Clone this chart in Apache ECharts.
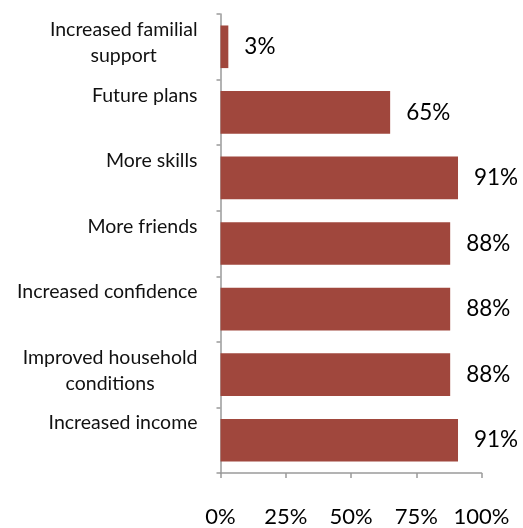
<!DOCTYPE html>
<html>
<head>
<meta charset="utf-8">
<style>
  html, body { margin: 0; padding: 0; background: #ffffff; }
  #chart { width: 523px; height: 528px; }
</style>
<script src="https://cdn.jsdelivr.net/npm/echarts@6/dist/echarts.min.js"></script>
</head>
<body>
<div id="chart"></div>
<script>
// Reported outcomes, listed top to bottom
const categories = [
  'Increased familial\nsupport',
  'Future plans',
  'More skills',
  'More friends',
  'Increased confidence',
  'Improved household\nconditions',
  'Increased income'
];
const percentValues = [3, 65, 91, 88, 88, 88, 91];
const axisTicks = [0, 25, 50, 75, 100];

const FONT = 'Lato, "Open Sans", sans-serif';
const BAR = '#A0473D';
const AXIS = '#9a9a9a';

const chart = echarts.init(document.getElementById('chart'), null, { renderer: 'canvas' });

chart.setOption({
  animation: false,
  backgroundColor: '#ffffff',
  grid: { left: 220.5, right: 41.5, top: 14, bottom: 52, containLabel: false },
  xAxis: {
    type: 'value',
    min: axisTicks[0],
    max: axisTicks[axisTicks.length - 1],
    interval: axisTicks[1] - axisTicks[0],
    axisLine: { show: true, lineStyle: { color: AXIS, width: 1.5 } },
    axisTick: { show: true, length: 5, lineStyle: { color: AXIS, width: 1.5 } },
    splitLine: { show: false },
    axisLabel: {
      margin: 33,
      fontFamily: FONT,
      fontSize: 22,
      color: '#000000',
      formatter: v => v + '%'
    }
  },
  yAxis: {
    type: 'category',
    inverse: true,
    data: categories,
    axisLine: { show: true, lineStyle: { color: AXIS, width: 1.5 } },
    axisTick: { show: true, length: 4, alignWithLabel: false, lineStyle: { color: AXIS, width: 1.5 } },
    axisLabel: {
      margin: 23,
      padding: [0, 0, 8, 0],
      // single-line names keep an empty second row so every label sits in a two-row block
      formatter: (name) => {
        const lines = name.split('\n');
        if (lines.length === 1) lines.push(' ');
        return lines.map(l => '{c|' + l + '}').join('\n');
      },
      rich: {
        c: {
          align: 'center',
          fontFamily: FONT,
          fontSize: 19.5,
          lineHeight: 26,
          color: '#111111'
        }
      }
    }
  },
  series: [{
    type: 'bar',
    data: percentValues,
    barWidth: '65%',
    itemStyle: { color: BAR },
    label: {
      show: true,
      position: 'right',
      distance: 16,
      fontFamily: FONT,
      fontSize: 22.5,
      color: '#000000',
      formatter: p => p.value + '%'
    }
  }]
});
</script>
</body>
</html>
